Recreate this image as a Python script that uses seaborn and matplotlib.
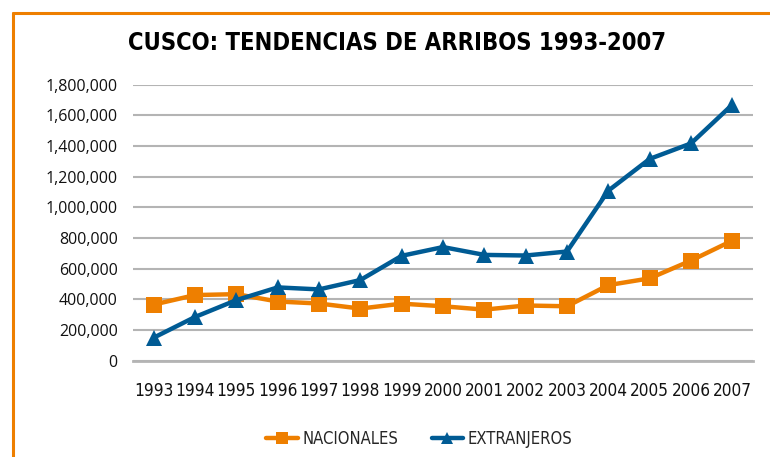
import matplotlib
matplotlib.use("Agg")
import matplotlib.pyplot as plt
import matplotlib.font_manager as fm
from matplotlib.font_manager import FontProperties
import seaborn as sns
import pandas as pd
from matplotlib.ticker import FuncFormatter

years = [1993, 1994, 1995, 1996, 1997, 1998, 1999, 2000, 2001, 2002, 2003, 2004, 2005, 2006, 2007]
nacionales = [366000, 428000, 434000, 386000, 373000, 340000, 372000, 355000, 333000, 360000, 355000, 493000, 537000, 653000, 783000]
extranjeros = [150000, 285000, 395000, 478000, 465000, 526000, 684000, 741000, 690000, 686000, 712000, 1109000, 1316000, 1417000, 1670000]
series_names = ["NACIONALES", "EXTRANJEROS"]
title = "CUSCO: TENDENCIAS DE ARRIBOS 1993-2007"


def find_condensed(bold):
    best = None
    best_score = None
    for f in fm.fontManager.ttflist:
        text = (f.name + " " + f.fname).lower()
        st = str(f.stretch).lower()
        is_cond = ("condensed" in text or "narrow" in text or "condensed" in st) and \
            "extra" not in text and "ultra" not in text and "semi" not in text and "semi" not in st
        if not is_cond:
            continue
        if "italic" in text or "oblique" in text or str(f.style) != "normal":
            continue
        w = f.weight if isinstance(f.weight, int) else 400
        target = 700 if bold else 400
        score = abs(w - target)
        if best_score is None or score < best_score:
            best, best_score = f.fname, score
    return best


reg_file = find_condensed(False)
bold_file = find_condensed(True)


def fp(size, bold=False):
    f = bold_file if bold else reg_file
    if f:
        return FontProperties(fname=f, size=size)
    return FontProperties(family="DejaVu Sans", size=size * 0.85,
                          weight="bold" if bold else "normal")


sns.set_theme(style="white")
plt.rcParams["font.family"] = ["DejaVu Sans"]

df = pd.DataFrame({
    "year": years * 2,
    "value": nacionales + extranjeros,
    "serie": [series_names[0]] * len(years) + [series_names[1]] * len(years),
})

fig = plt.figure(figsize=(7.7, 4.57), dpi=100)
ax = fig.add_axes([133 / 770, 1 - 360.7 / 457, 620 / 770, 276 / 457])

palette = {"NACIONALES": "#EE7F00", "EXTRANJEROS": "#005B94"}
markers = {"NACIONALES": "s", "EXTRANJEROS": "^"}
sns.lineplot(data=df, x="year", y="value", hue="serie", style="serie",
             palette=palette, markers=markers, dashes=False, markersize=12,
             linewidth=3.2, markeredgewidth=0, ax=ax, zorder=3, clip_on=False)

ax.set_xlim(1992.5, 2007.5)
ax.set_ylim(0, 1800000)
ax.set_yticks(range(0, 1800001, 200000))
ax.yaxis.set_major_formatter(FuncFormatter(lambda v, p: f"{int(v):,}"))
ax.set_xticks(years)
ax.set_xticklabels([str(y) for y in years])
ax.grid(axis="y", color="#b4b4b4", linewidth=1.5)
ax.grid(axis="x", visible=False)
for s in ["top", "right", "left"]:
    ax.spines[s].set_visible(False)
ax.spines["bottom"].set_color("#b4b4b4")
ax.spines["bottom"].set_linewidth(2)
ax.tick_params(axis="both", length=0, colors="#111111")
ax.tick_params(axis="y", pad=11)
ax.tick_params(axis="x", pad=15)
for lab in ax.get_yticklabels():
    lab.set_fontfamily(["Open Sans", "DejaVu Sans"])
    lab.set_fontsize(11.5)
for lab in ax.get_xticklabels():
    lab.set_fontproperties(fp(12.3))
ax.set_xlabel("")
ax.set_ylabel("")

handles, labels = ax.get_legend_handles_labels()
ax.legend(handles=handles, labels=labels, loc="center", bbox_to_anchor=(419.5 / 770, 1 - 439 / 457),
          bbox_transform=fig.transFigure, ncol=2, frameon=False, prop=fp(11.9),
          handlelength=1.9, columnspacing=2.0, handletextpad=0.3, markerscale=0.75)

t = fig.text(397.5 / 770, 1 - 43 / 457, title, ha="center", va="center",
             fontproperties=fp(22, bold=True), color="#000000")
fig.canvas.draw()
w = t.get_window_extent(fig.canvas.get_renderer()).width
t.set_fontsize(22 * 535 / w)

# orange frame (top and left edges)
fig.add_artist(plt.Line2D([13 / 770, 1.0], [1 - 12.5 / 457, 1 - 12.5 / 457],
                          transform=fig.transFigure, color="#EE7F00", linewidth=2.2))
fig.add_artist(plt.Line2D([13 / 770, 13 / 770], [0, 1 - 12.5 / 457],
                          transform=fig.transFigure, color="#EE7F00", linewidth=2.2))

fig.savefig("out.png", dpi=100)
